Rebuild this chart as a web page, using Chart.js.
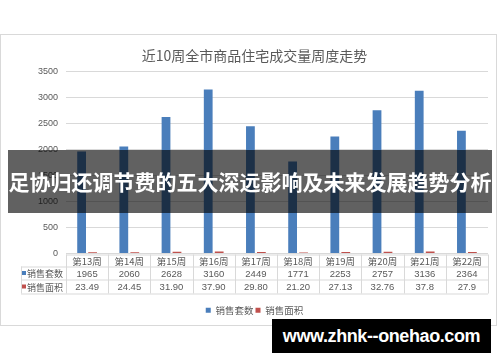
<!DOCTYPE html>
<html>
<head>
<meta charset="utf-8">
<script src="https://cdn.jsdelivr.net/npm/chart.js@4/dist/chart.umd.min.js"></script>
<style>
    html, body { margin: 0; padding: 0; background: #fff; }
    body { width: 500px; height: 362px; position: relative; overflow: hidden; }
    #frame { position: absolute; left: 0; top: 34px; width: 497px; height: 292px; border: 1px solid #d9d9d9; box-sizing: border-box; }
    #chart1 { display: block; }
    #banner { position: absolute; left: 8px; top: 150px; width: 484px; height: 63px; background: rgba(0, 0, 0, 0.62);
        color: #fff; font: bold 21px "Noto Sans CJK SC", sans-serif; line-height: 63px; text-align: center; white-space: nowrap; }
    #mark { position: absolute; left: 272px; top: 319px; width: 219px; height: 34px; background: #000;
        color: #fff; font: bold 18px "Liberation Sans", sans-serif; letter-spacing: -0.4px; line-height: 35px; text-align: center; }
</style>
</head>
<body>
<div id="frame"><canvas id="chart1" width="495" height="290"></canvas></div>
<div id="banner">足协归还调节费的五大深远影响及未来发展趋势分析</div>
<div id="mark">www.zhnk--onehao.com</div>
<script>
const chartTitle = "近10周全市商品住宅成交量周度走势";
const weeks = ["第13周", "第14周", "第15周", "第16周", "第17周", "第18周", "第19周", "第20周", "第21周", "第22周"];
const salesUnits = [1965, 2060, 2628, 3160, 2449, 1771, 2253, 2757, 3136, 2364];
const salesArea = [23.49, 24.45, 31.90, 37.90, 29.80, 21.20, 27.13, 32.76, 37.8, 27.9];
const areaLabels = ["23.49", "24.45", "31.90", "37.90", "29.80", "21.20", "27.13", "32.76", "37.8", "27.9"];
const seriesNames = ["销售套数", "销售面积"];
const seriesColors = ["#4a7ebb", "#c0504d"];

const textColor = "#595959";
const lineColor = "#d9d9d9";
const cjkFont = '"Noto Sans CJK SC", "Liberation Sans", sans-serif';

// Draw the data table under the x axis, columns taken from the x scale
const dataTable = {
    id: "dataTable",
    afterDraw(chart) {
        const ctx = chart.ctx;
        const x = chart.scales.x;
        const area = chart.chartArea;
        const colW = (x.right - x.left) / weeks.length;
        const top = area.bottom + 1;
        const rowH = [12, 13, 14];
        const y0 = top, y1 = top + rowH[0], y2 = y1 + rowH[1], y3 = y2 + rowH[2];
        const labelLeft = 20;

        ctx.save();
        ctx.strokeStyle = lineColor;
        ctx.lineWidth = 1;
        ctx.beginPath();
        // horizontal lines
        ctx.moveTo(x.left, y0 + 0.5); ctx.lineTo(x.right, y0 + 0.5);
        ctx.moveTo(labelLeft, y1 + 0.5); ctx.lineTo(x.right, y1 + 0.5);
        ctx.moveTo(labelLeft, y2 + 0.5); ctx.lineTo(x.right, y2 + 0.5);
        ctx.moveTo(labelLeft, y3 + 0.5); ctx.lineTo(x.right, y3 + 0.5);
        // vertical lines
        ctx.moveTo(labelLeft + 0.5, y1); ctx.lineTo(labelLeft + 0.5, y3);
        for (let i = 0; i <= weeks.length; i++) {
            const px = Math.round(x.left + i * colW) + 0.5;
            ctx.moveTo(px, y0); ctx.lineTo(px, y3);
        }
        ctx.stroke();

        ctx.fillStyle = textColor;
        ctx.textAlign = "center";
        ctx.textBaseline = "middle";
        weeks.forEach((w, i) => {
            const cx = x.getPixelForValue(i);
            ctx.font = "9.5px " + cjkFont;
            ctx.fillText(w, cx, (y0 + y1) / 2 + 1);
            ctx.font = '9.5px "Liberation Sans", sans-serif';
            ctx.fillText(String(salesUnits[i]), cx, (y1 + y2) / 2 + 1);
            ctx.fillText(areaLabels[i], cx, (y2 + y3) / 2 + 1);
        });

        // row labels with colour keys
        ctx.textAlign = "left";
        ctx.font = "9px " + cjkFont;
        [[y1, y2], [y2, y3]].forEach(([a, b], k) => {
            const cy = (a + b) / 2;
            ctx.fillStyle = seriesColors[k];
            ctx.fillRect(labelLeft + 1, cy - 2, 4, 4);
            ctx.fillStyle = textColor;
            ctx.fillText(seriesNames[k], labelLeft + 6, cy + 1);
        });
        ctx.restore();
    }
};

const ctx = document.getElementById("chart1").getContext("2d");
new Chart(ctx, {
    type: "bar",
    data: {
        labels: weeks,
        datasets: [
            { label: seriesNames[0], data: salesUnits, backgroundColor: seriesColors[0] },
            { label: seriesNames[1], data: salesArea, backgroundColor: seriesColors[1] }
        ]
    },
    options: {
        responsive: false,
        animation: false,
        events: [],
        categoryPercentage: 0.52,
        barPercentage: 0.8,
        layout: { padding: { left: 20, right: 8, top: 4, bottom: 0 } },
        plugins: {
            title: {
                display: true,
                text: chartTitle,
                color: textColor,
                font: { family: cjkFont, size: 14, weight: "normal" },
                padding: { top: 8, bottom: 8 }
            },
            legend: {
                position: "bottom",
                labels: {
                    color: textColor,
                    font: { family: cjkFont, size: 9.5 },
                    boxWidth: 5,
                    boxHeight: 5,
                    padding: 2
                }
            },
            tooltip: { enabled: false }
        },
        scales: {
            x: {
                grid: { display: false },
                border: { display: false },
                ticks: { display: false },
                afterFit(scale) { scale.height = 50; }
            },
            y: {
                min: 0,
                max: 3500,
                ticks: {
                    stepSize: 500,
                    color: textColor,
                    font: { family: '"Liberation Sans", sans-serif', size: 9 },
                    padding: 8,
                    callback: value => String(value)
                },
                grid: { color: lineColor, drawTicks: false },
                border: { display: false },
                afterFit(scale) { scale.width = 45; }
            }
        }
    },
    plugins: [dataTable]
});
</script>
</body>
</html>
